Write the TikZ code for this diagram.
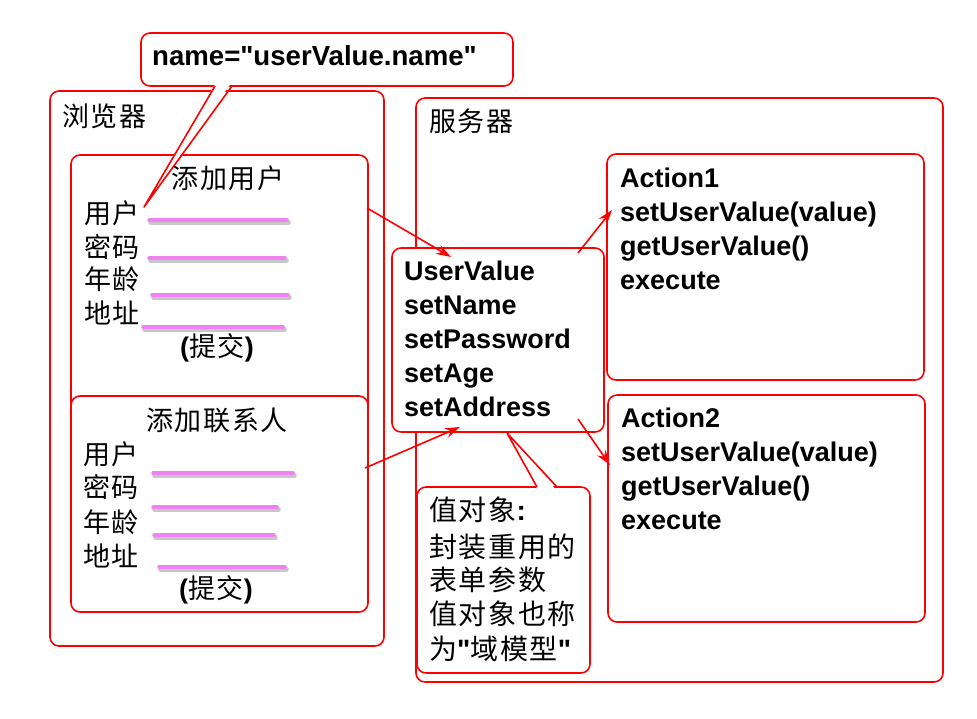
\documentclass[tikz,border=0pt]{standalone}
\usepackage{fontspec}
\setmainfont{Liberation Sans}
\newfontfamily\codefont{Liberation Sans}
\newfontfamily\cjk[LetterSpace=6]{Noto Sans CJK SC}
\usetikzlibrary{arrows.meta,calc}
\definecolor{fieldpink}{HTML}{EE82EE}

\tikzset{
	box/.style = {draw = red, line width = 1.6pt, rounded corners = 9pt, fill = white, inner sep = 0pt},
	code/.style = {font = \codefont\fontsize{27}{34}\selectfont\bfseries, inner sep = 0pt, anchor = base west},
	lbl/.style = {font = \cjk\fontsize{27}{32}\selectfont, inner sep = 0pt},
	note/.style = {font = \cjk\fontsize{28}{34}\selectfont, inner sep = 0pt, anchor = west},
	wire/.style = {red, line width = 1.6pt},
	arr/.style = {wire, -{Stealth[length = 15pt, width = 10pt]}},
	fld/.style = {fieldpink, line width = 3.5pt, line cap = round},
	fldshadow/.style = {gray!55, line width = 4.5pt, line cap = round, opacity = 0.8}
}
\newcommand{\bp}[1]{{\codefont\bfseries #1}}

\begin{document}
\begin{tikzpicture}[x = 1pt, y = -1pt]
	\path[fill = white, use as bounding box] (0,0) rectangle (977,718);
	% browser side
	\node[box, minimum width = 334pt, minimum height = 555pt] (BR) at (217,368.5) {};
	\node[lbl, anchor = west] (BRt) at (62,116) {浏览器};
	\node[box, minimum width = 297pt, minimum height = 280pt] (F1) at (219.5,295) {};
	\node[box, minimum width = 297pt, minimum height = 216pt] (F2) at (219.5,504) {};
	% server side
	\node[box, minimum width = 527pt, minimum height = 584pt] (SV) at (679.5,390) {};
	\node[lbl, anchor = west] (SVt) at (429,121) {服务器};
	\node[box, minimum width = 212pt, minimum height = 184pt] (UV) at (498,340) {};
	\node[box, minimum width = 317pt, minimum height = 226pt] (A1) at (765.5,267) {};
	\node[box, minimum width = 317pt, minimum height = 227pt] (A2) at (766.5,508.5) {};

	% form 1
	\node[lbl] (F1t) at (228,178) {添加用户};
	\foreach \t/\y [count = \i] in {用户/213, 密码/247, 年龄/279, 地址/313}
		\node[lbl, anchor = west] (F1l\i) at (84,\y) {\t};
	\node[lbl] (F1s) at (217,348) {\bp{(}提交\bp{)}};
	% form 2
	\node[lbl] (F2t) at (217,420) {添加联系人};
	\foreach \t/\y [count = \i] in {用户/454, 密码/487, 年龄/522, 地址/556}
		\node[lbl, anchor = west] (F2l\i) at (83,\y) {\t};
	\node[lbl] (F2s) at (216,590) {\bp{(}提交\bp{)}};
	% input fields
	\foreach \xa/\xb/\y in {149/287/220, 149/285/258, 152/288/295, 143/283/327, 153/293/473, 153/277/507, 154/274/535, 159/285/567}{
		\draw[fldshadow] (\xa+1.5,\y+2.5) -- (\xb+1.5,\y+2.5);
		\draw[fld] (\xa,\y) -- (\xb,\y);
	}

	% value object and actions
	\foreach \t [count = \i from 0] in {UserValue, setName, setPassword, setAge, setAddress}
		\node[code] (UVt\i) at (404,280+34*\i) {\t};
	\foreach \t [count = \i from 0] in {Action1, setUserValue(value), getUserValue(), execute}
		\node[code] (A1t\i) at (620,187+34*\i) {\t};
	\foreach \t [count = \i from 0] in {Action2, setUserValue(value), getUserValue(), execute}
		\node[code] (A2t\i) at (621,427+34*\i) {\t};

	% arrows
	\coordinate (p1) at (367,208); \coordinate (q1) at (451,257);
	\coordinate (p2) at (365,468); \coordinate (q2) at (460,427);
	\coordinate (p3) at (578,253); \coordinate (q3) at (612,210);
	\coordinate (p4) at (578,419); \coordinate (q4) at (610,465);
	\draw[arr] (p1) -- (q1);
	\draw[arr] (p2) -- (q2);
	\draw[arr] (p3) -- (q3);
	\draw[arr] (p4) -- (q4);

	% callout: name
	\node[box, minimum width = 372pt, minimum height = 53pt] (N) at (327,59.5) {};
	\node[code, font = \codefont\fontsize{27.6}{34}\selectfont\bfseries] (Nt) at (152,65) {name="userValue.name"};
	\coordinate (Na) at (215,86); \coordinate (Nb) at (232,86); \coordinate (Np) at (144,207);
	\fill[white] ($(Na)+(0.8,-3)$) -- (Np) -- ($(Nb)+(-0.8,-3)$) -- cycle;
	\draw[wire, line join = round] (Na) -- (Np) -- (Nb);

	% callout: value object
	\node[box, minimum width = 173pt, minimum height = 186pt] (V) at (503.5,580) {};
	\foreach \t/\y [count = \i] in {值对象\bp{:}/510, 封装重用的/547, 表单参数/580, 值对象也称/614, 为\bp{"}域模型\bp{"}/649}
		\node[note] (Vt\i) at (429,\y) {\t};
	\coordinate (Va) at (537,487); \coordinate (Vb) at (557,487); \coordinate (Vp) at (507,433);
	\fill[white] ($(Va)+(0.8,3)$) -- (Vp) -- ($(Vb)+(-0.8,3)$) -- cycle;
	\draw[wire, line join = round] (Va) -- (Vp) -- (Vb);
\end{tikzpicture}
\end{document}
